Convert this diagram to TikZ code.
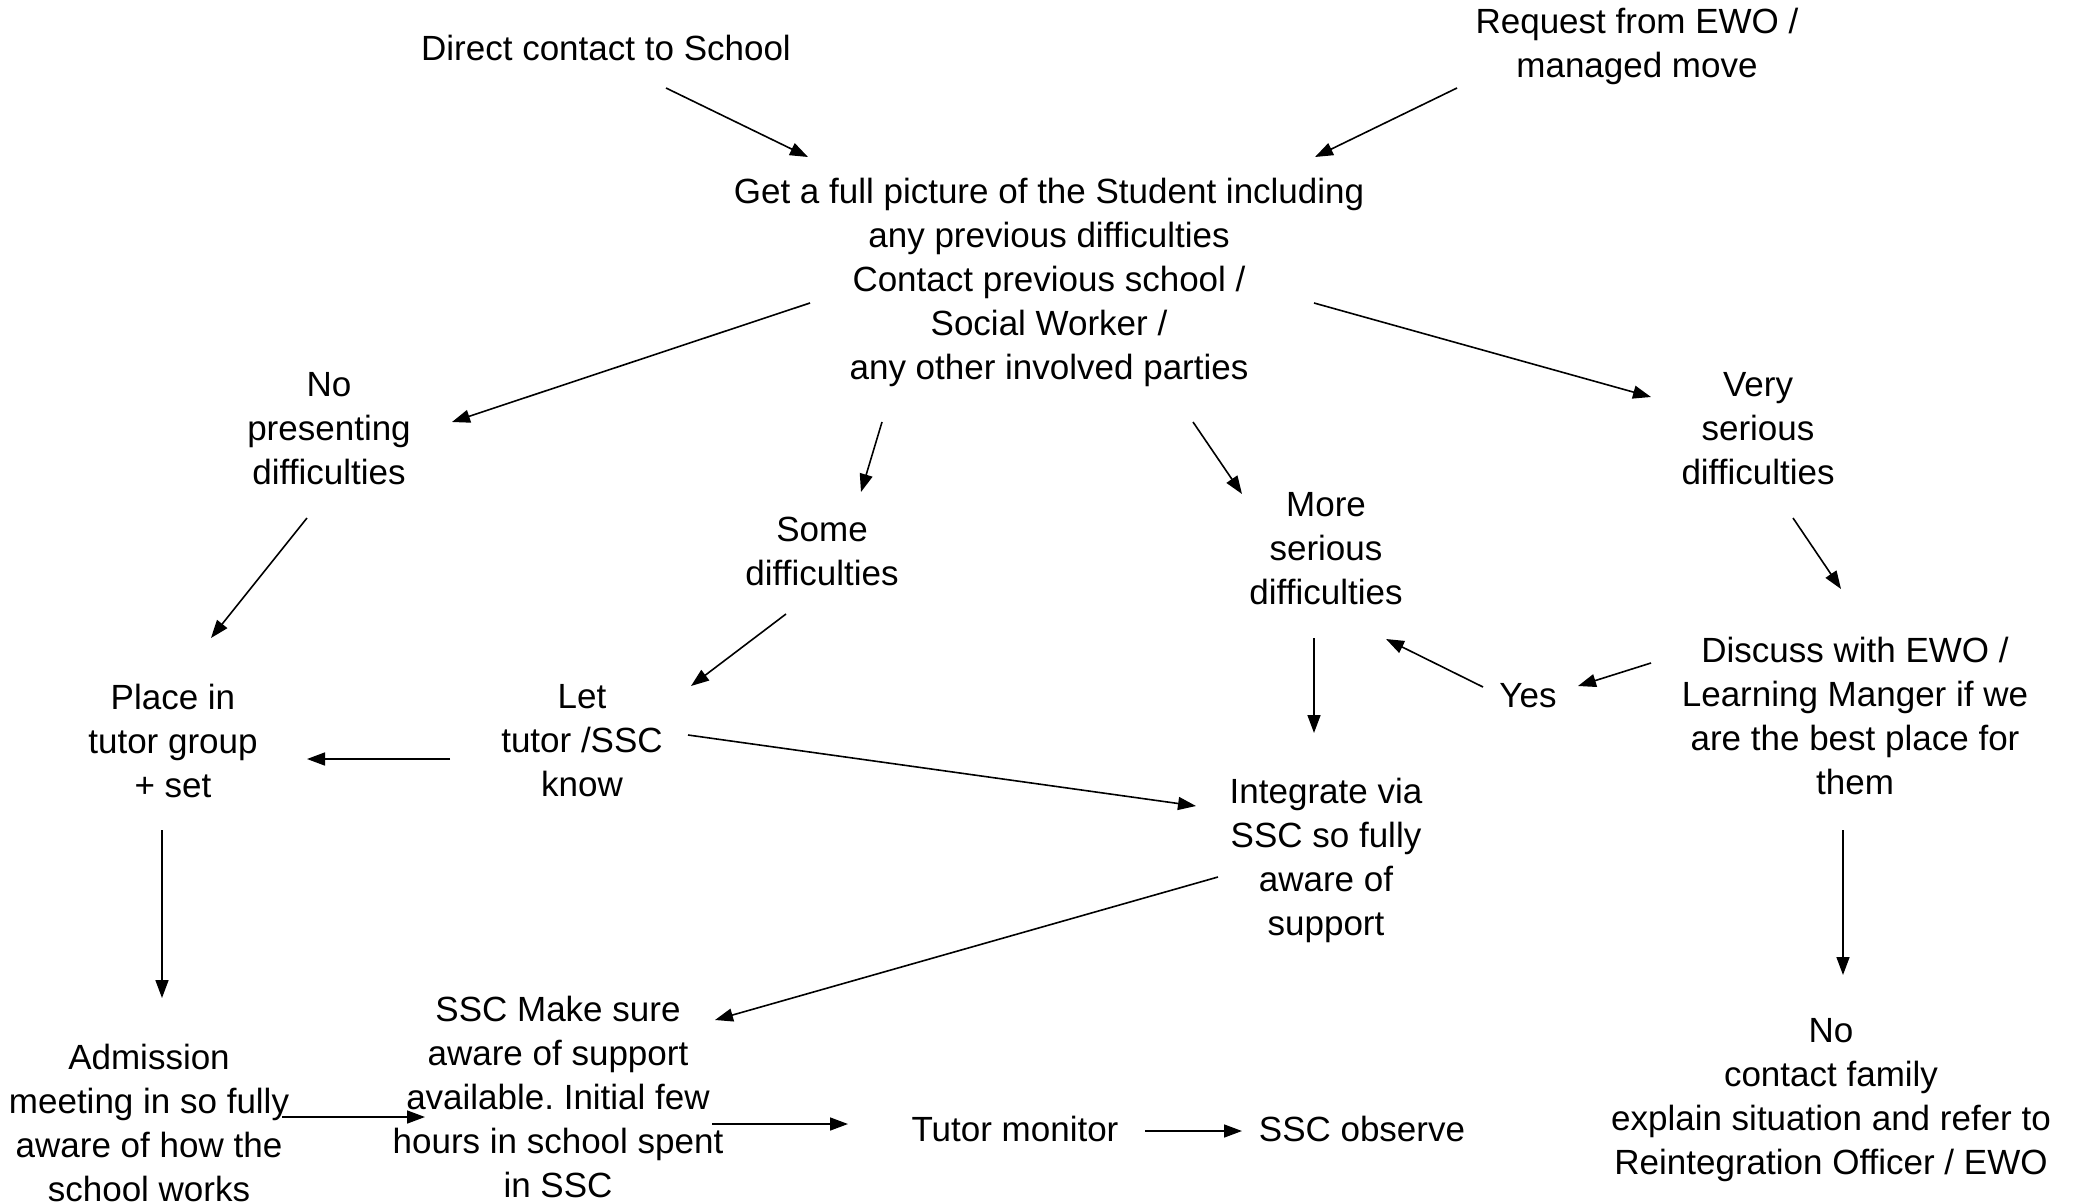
\documentclass[tikz,border=0pt]{standalone}
\usepackage{fontspec}
\setmainfont{Liberation Sans}
\usetikzlibrary{arrows.meta}
\frenchspacing
\begin{document}
\begin{tikzpicture}[x=0.5pt,y=-0.5pt,
  lbl/.style={align=center,inner sep=0pt,font=\fontsize{17.5}{22}\selectfont},
  arr/.style={line width=0.8pt,-{Triangle[length=9pt,width=6.5pt]}}]
\useasboundingbox[fill=white] (0,0) rectangle (2083,1204);
\node[lbl] (direct) at (606,48) {Direct contact to School};
\node[lbl] (request) at (1637,46) {Request from EWO /\\managed move};
\node[lbl] (main) at (1049,282) {Get a full picture of the Student including\\any previous difficulties\\Contact previous school /\\Social Worker /\\any other involved parties};
\node[lbl] (nopres) at (329,429) {No\\presenting\\difficulties};
\node[lbl] (some) at (822,551) {Some\\difficulties};
\node[lbl] (more) at (1326,549) {More\\serious\\difficulties};
\node[lbl] (very) at (1758,429) {Very\\serious\\difficulties};
\node[lbl] (discuss) at (1855,716) {Discuss with EWO /\\Learning Manger if we\\are the best place for\\them};
\node[lbl] (yes) at (1528,696) {Yes};
\node[lbl] (place) at (173,741) {Place in\\tutor group\\+ set};
\node[lbl] (let) at (582,741) {Let\\tutor /SSC\\know};
\node[lbl] (integ) at (1326,860) {Integrate via\\SSC so fully\\aware of\\support};
\node[lbl] (admis) at (149,1123) {Admission\\meeting in so fully\\aware of how the\\school works};
\node[lbl] (sscmake) at (558,1097) {SSC Make sure\\aware of support\\available. Initial few\\hours in school spent\\in SSC};
\node[lbl] (tutor) at (1015,1129) {Tutor monitor};
\node[lbl] (observe) at (1362,1129) {SSC observe};
\node[lbl] (nocontact) at (1831,1100) {No\\contact family\\explain situation and refer to\\Reintegration Officer / EWO};
% connectors
\draw[arr] ([shift={(60,40)}]direct.center) -- ([shift={(-241,-125)}]main.center);
\draw[arr] ([shift={(-180,42)}]request.center) -- ([shift={(266,-125)}]main.center);
\draw[arr] ([shift={(-239,21)}]main.center) -- ([shift={(123,-7)}]nopres.center);
\draw[arr] ([shift={(-167,140)}]main.center) -- ([shift={(39,-59)}]some.center);
\draw[arr] ([shift={(144,140)}]main.center) -- ([shift={(-84,-55)}]more.center);
\draw[arr] ([shift={(265,21)}]main.center) -- ([shift={(-107,-32)}]very.center);
\draw[arr] ([shift={(-22,89)}]nopres.center) -- ([shift={(38,-103)}]place.center);
\draw[arr] ([shift={(-36,63)}]some.center) -- ([shift={(109,-55)}]let.center);
\draw[arr] ([shift={(-12,89)}]more.center) -- ([shift={(-12,-127)}]integ.center);
\draw[arr] ([shift={(35,89)}]very.center) -- ([shift={(-14,-127)}]discuss.center);
\draw[arr] ([shift={(-204,-53)}]discuss.center) -- ([shift={(50,-10)}]yes.center);
\draw[arr] ([shift={(-45,-9)}]yes.center) -- ([shift={(60,90)}]more.center);
\draw[arr] ([shift={(-132,18)}]let.center) -- ([shift={(134,18)}]place.center);
\draw[arr] ([shift={(106,-6)}]let.center) -- ([shift={(-130,-54)}]integ.center);
\draw[arr] ([shift={(-11,89)}]place.center) -- ([shift={(13,-125)}]admis.center);
\draw[arr] ([shift={(-108,17)}]integ.center) -- ([shift={(157,-77)}]sscmake.center);
\draw[arr] ([shift={(-12,114)}]discuss.center) -- ([shift={(12,-125)}]nocontact.center);
\draw[arr] ([shift={(133,-6)}]admis.center) -- ([shift={(-133,20)}]sscmake.center);
\draw[arr] ([shift={(154,27)}]sscmake.center) -- ([shift={(-167,-5)}]tutor.center);
\draw[arr] ([shift={(130,2)}]tutor.center) -- ([shift={(-120,2)}]observe.center);
\end{tikzpicture}
\end{document}
